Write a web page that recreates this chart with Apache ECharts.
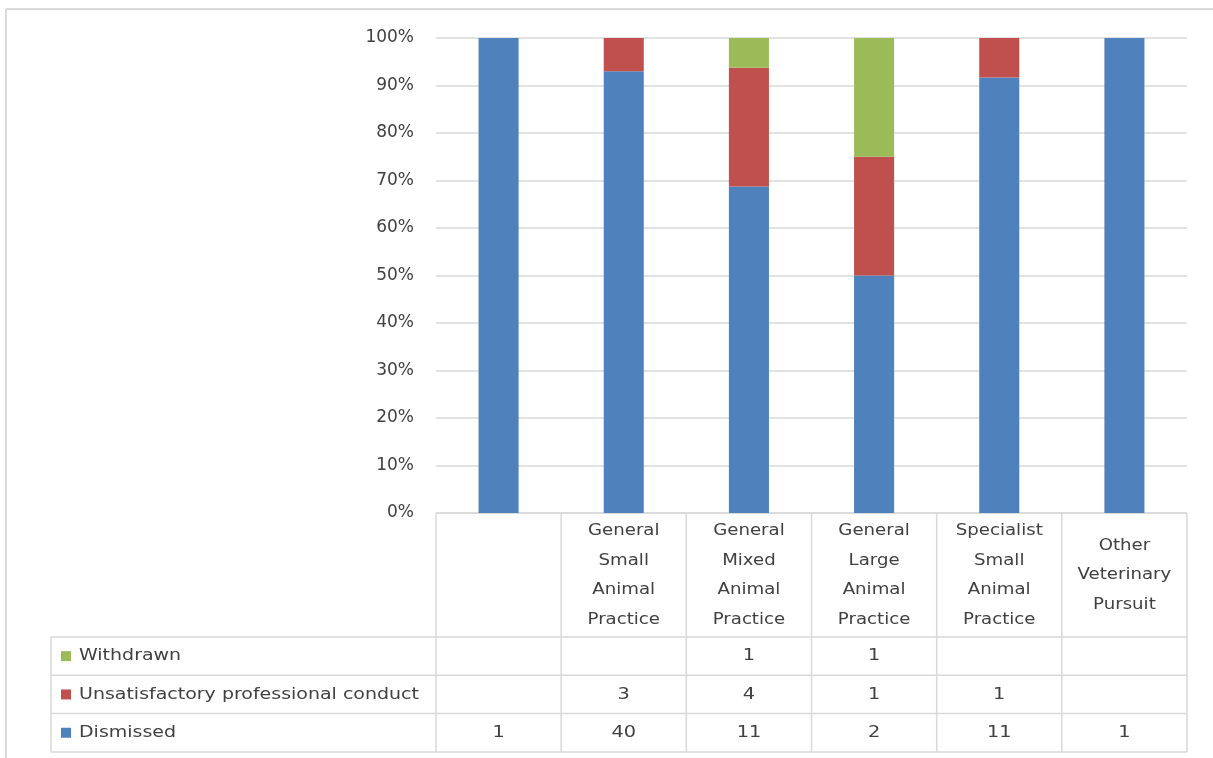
<!DOCTYPE html>
<html><head><meta charset="utf-8">
<script src="https://cdn.jsdelivr.net/npm/echarts@6/dist/echarts.min.js"></script>
<style>html,body{margin:0;padding:0;background:#fff}#c{width:1213px;height:758px}</style>
</head><body><div id="c"></div>
<script>
const categories = ['', 'General\nSmall\nAnimal\nPractice', 'General\nMixed\nAnimal\nPractice', 'General\nLarge\nAnimal\nPractice', 'Specialist\nSmall\nAnimal\nPractice', 'Other\nVeterinary\nPursuit'];
const dismissed = [1, 40, 11, 2, 11, 1];
const unsatisfactory = [null, 3, 4, 1, 1, null];
const withdrawn = [null, null, 1, 1, null, null];
const seriesNames = ['Dismissed', 'Unsatisfactory professional conduct', 'Withdrawn'];
const seriesColors = ['#4F81BD', '#C0504D', '#9BBB59'];
const yTickStep = 0.1;

const rawSeries = [dismissed, unsatisfactory, withdrawn];
const totals = categories.map((c, i) => rawSeries.reduce((s, arr) => s + (arr[i] || 0), 0));
const share = arr => arr.map((v, i) => v == null ? null : v / totals[i]);

const FONT = '"DejaVu Sans", sans-serif';
const TXT = '#404040';
const LINE = '#d9d9d9';

const chart = echarts.init(document.getElementById('c'), null, {renderer: 'canvas'});
const option = {
  animation: false,
  backgroundColor: '#fff',
  grid: {left: 436, right: 26, top: 38, bottom: 245, containLabel: false},
  xAxis: {
    type: 'category', data: categories,
    axisLine: {show: false}, axisTick: {show: false}, axisLabel: {show: false}
  },
  yAxis: {
    type: 'value', min: 0, max: 1, interval: yTickStep,
    axisLine: {show: false}, axisTick: {show: false},
    axisLabel: {formatter: v => Math.round(v * 100) + '%', fontFamily: FONT, fontSize: 17, color: TXT, margin: 22},
    splitLine: {lineStyle: {color: LINE, width: 1.5}}
  },
  series: rawSeries.map((arr, k) => ({
    name: seriesNames[k], type: 'bar', stack: 'total', barWidth: '32%',
    itemStyle: {color: seriesColors[k]},
    data: share(arr)
  }))
};
chart.setOption(option);

const x0 = chart.convertToPixel({xAxisIndex: 0}, 0);
const x1 = chart.convertToPixel({xAxisIndex: 0}, 1);
const band = x1 - x0;
const plotLeft = x0 - band / 2;
const plotRight = plotLeft + band * categories.length;
const yBase = chart.convertToPixel({yAxisIndex: 0}, 0);
const headerH = 124;
const rowH = 38.3;
const tableLeft = 51;
const tableBottom = yBase + headerH + rowH * 3;

const g = [];
const line = (xa, ya, xb, yb, w) => g.push({type: 'line', silent: true, shape: {x1: xa, y1: ya, x2: xb, y2: yb}, style: {stroke: LINE, lineWidth: w || 1.5}});
const text = (x, y, t, align, lh, sx) => g.push({type: 'text', silent: true, x: x, y: y, scaleX: sx || 1.17,
  style: {text: t, x: 0, y: 0, font: '16.5px ' + FONT, fill: TXT, align: align, verticalAlign: 'middle', lineHeight: lh || 20}});

// outer border (top and left edges visible)
line(6, 9, 1213, 9, 2);
line(6, 9, 6, 758, 2);

// table grid
line(plotLeft, yBase, plotRight, yBase);
for (let r = 0; r <= 3; r++) {
  const y = yBase + headerH + rowH * r;
  line(tableLeft, y, plotRight, y);
}
for (let k = 0; k <= categories.length; k++) {
  const x = plotLeft + band * k;
  line(x, yBase, x, tableBottom);
}
line(tableLeft, yBase + headerH, tableLeft, tableBottom);

// header labels
categories.forEach((c, i) => {
  const cx = chart.convertToPixel({xAxisIndex: 0}, i);
  text(cx, yBase + headerH / 2, c, 'center', 29.5, 1.1);
});

// data rows: top row is last series
const rowOrder = [2, 1, 0];
rowOrder.forEach((k, r) => {
  const cy = yBase + headerH + rowH * (r + 0.5);
  g.push({type: 'rect', silent: true, shape: {x: 61, y: cy - 5, width: 10, height: 10}, style: {fill: seriesColors[k]}});
  text(79, cy, seriesNames[k], 'left', 20, 1.15);
  rawSeries[k].forEach((v, i) => {
    if (v == null) return;
    const cx = chart.convertToPixel({xAxisIndex: 0}, i);
    text(cx, cy, String(v), 'center');
  });
});

chart.setOption({graphic: g});
</script>
</body></html>
